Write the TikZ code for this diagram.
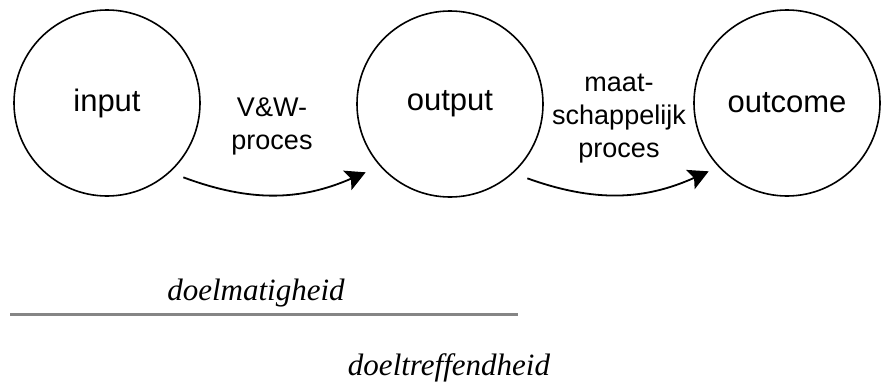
\documentclass[tikz,border=0pt]{standalone}
\usepackage{fontspec}
\setmainfont{Liberation Serif}
\setsansfont{Liberation Sans}
\usetikzlibrary{arrows.meta}
\definecolor{rulegray}{HTML}{858585}

\begin{document}
\begin{tikzpicture}[x=1pt, y=1pt,
      stage/.style={circle, draw, line width=1.6pt, minimum size=186pt, inner sep=0pt,
        font=\sffamily\fontsize{31}{37}\selectfont},
      proc/.style={align=center, inner sep=0pt, font=\sffamily\fontsize{27}{33}\selectfont},
      flow/.style={line width=1.8pt, -{Stealth[length=20pt, width=21pt, inset=4pt]}},
      measure/.style={inner sep=0pt, anchor=base, font=\itshape\fontsize{31}{37}\selectfont}]
      \useasboundingbox (0,0) rectangle (887,-383);
      \node[stage] (input) at (107,-103) {\raisebox{-2pt}{input}};
      \node[stage] (output) at (450,-104) {\raisebox{-2pt}{output}};
      \node[stage] (outcome) at (787,-103) {\raisebox{-2pt}{outcome}};
      \node[proc] (vw) at (272,-126) {V\&W-\\proces};
      \node[proc] (maat) at (619,-119) {maat-\\schappelijk\\proces};
      \draw[flow] ([shift={(10pt,-8pt)}]input.-45) to[bend right=22] ([shift={(-18pt,-2pt)}]output.-135);
      \draw[flow] ([shift={(11pt,-8pt)}]output.-45) to[bend right=22] ([shift={(-12pt,-2pt)}]outcome.-135);
      \node[measure] (effic) at (256,-300) {doelmatigheid};
      \coordinate (rule west) at (10,-314);
      \coordinate (rule east) at (518,-314);
      \draw[rulegray, line width=3pt] (rule west) -- (rule east);
      \node[measure] (effect) at (449,-375) {doeltreffendheid};
    \end{tikzpicture}
\end{document}
